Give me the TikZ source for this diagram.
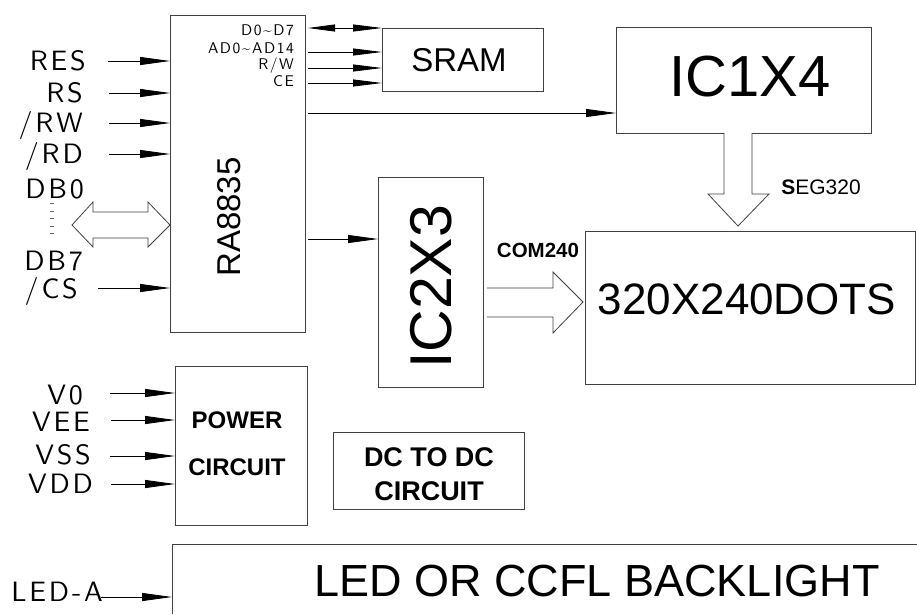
\documentclass[tikz,border=0pt]{standalone}
\usepackage{fontspec}
\usetikzlibrary{arrows.meta}
\newfontfamily\arial{Liberation Sans}
\newfontfamily\cad{lmsans10-regular.otf}[LetterSpace=10]
\tikzset{
  box/.style={draw=black!75, line width=0.8pt, inner sep=0pt, outer sep=0pt, anchor=north west},
  sig/.style={draw=black, line width=0.8pt, -{Triangle[length=30pt,width=8pt]}},
  ssig/.style={draw=black, line width=0.8pt, -{Triangle[length=29pt,width=7pt]}},
  dsig/.style={draw=black, line width=0.8pt, {Triangle[length=27pt,width=7pt]}-{Triangle[length=29pt,width=7pt]}},
  fat/.style={draw=black!75, line width=0.8pt, fill=white},
  cadlbl/.style={inner sep=0pt, anchor=base east, font=\cad\fontsize{28}{28}\selectfont},
  smalllbl/.style={inner sep=0pt, anchor=base east, font=\cad\fontsize{15.5}{15.5}\selectfont},
  big/.style={inner sep=0pt, font=\arial\fontsize{#1}{#1}\selectfont},
  bold/.style={inner sep=0pt, font=\arial\bfseries\fontsize{#1}{#1}\selectfont},
}
\begin{document}
\begin{tikzpicture}[x=1pt,y=-1pt]
\useasboundingbox (0,0) rectangle (917,614);
\fill[white] (0,0) rectangle (917,614);

% boxes
\node[box, minimum width=135pt, minimum height=317pt] (ra) at (170,15) {};
\node[box, minimum width=161pt, minimum height=63pt] (sram) at (382,28) {};
\node[box, minimum width=255pt, minimum height=106pt] (ic1) at (616,27) {};
\node[box, minimum width=105pt, minimum height=210pt] (ic2) at (378,177) {};
\node[box, minimum width=330pt, minimum height=153pt] (disp) at (585,231) {};
\node[box, minimum width=132pt, minimum height=159pt] (pwr) at (175,366) {};
\node[box, minimum width=191pt, minimum height=77pt] (dcdc) at (333,432) {};
\coordinate (ledNE) at (917,544);
\coordinate (ledNW) at (172,544);
\coordinate (ledSW) at (172,614);
\draw[black!75, line width=0.8pt] (ledNE) -- (ledNW) -- (ledSW);

% box texts
\node[big=33, rotate=90] (raT) at (229,217) {RA8835};
\node[big=33] (sramT) at (459,60) {SRAM};
\node[big=58] (ic1T) at (750,77) {IC1X4};
\node[big=59, rotate=90] (ic2T) at (431,287) {IC2X3};
\node[big=44] (dispT) at (747,299) {320X240DOTS};
\node[big=45] (ledT) at (597,581) {LED OR CCFL BACKLIGHT};
\node[bold=24] (pwrT1) at (237,420) {POWER};
\node[bold=24] (pwrT2) at (237,467) {CIRCUIT};
\node[bold=27] (dcT1) at (429,457) {DC TO DC};
\node[bold=27] (dcT2) at (429,491) {CIRCUIT};
\node[bold=20.5] (comT) at (538,250) {COM240};
\node[big=21] (segT) at (821,187) {\textbf{S}EG320};

% internal labels of RA8835
\node[smalllbl] (lD) at (294,35) {D0\textasciitilde D7};
\node[smalllbl] (lA) at (294,53) {AD0\textasciitilde AD14};
\node[smalllbl] (lR) at (294,69) {R/W};
\node[smalllbl] (lC) at (294,86) {CE};

% left labels
\node[cadlbl] (tRES) at (86,70) {RES};
\node[cadlbl] (tRS) at (83,102) {RS};
\node[cadlbl] (tRW) at (83,132) {/RW};
\node[cadlbl] (tRD) at (83,163) {/RD};
\node[cadlbl] (tDB0) at (84,198) {DB0};
\node[cadlbl] (tDB7) at (83,270) {DB7};
\node[cadlbl] (tCS) at (78,298) {/CS};
\node[cadlbl] (tV0) at (83,404) {V0};
\node[cadlbl] (tVEE) at (90,431) {VEE};
\node[cadlbl] (tVSS) at (91,464) {VSS};
\node[cadlbl] (tVDD) at (93,493) {VDD};
\node[cadlbl] (tLED) at (103,601) {LED-A};
\draw[black!60, line width=4pt, dash pattern=on 1.2pt off 6.3pt] (52,203) -- (52,235);

% input arrows to RA8835
\coordinate (cRES) at (108,61);
\coordinate (cRS) at (109,93);
\coordinate (cRW) at (109,123);
\coordinate (cRD) at (109,154);
\coordinate (cCS) at (98,288);
\foreach \c in {cRES,cRS,cRW,cRD,cCS} \draw[sig] (\c) -- (\c -| ra.west);

% power inputs
\coordinate (cV0) at (110,393);
\coordinate (cVEE) at (111,420);
\coordinate (cVSS) at (110,456);
\coordinate (cVDD) at (111,484);
\foreach \c in {cV0,cVEE,cVSS,cVDD} \draw[sig] (\c) -- (\c -| pwr.west);

% LED-A
\coordinate (cLED) at (101,597);
\draw[sig] (cLED) -- (cLED -| ledNW);

% data bus double arrow
\draw[fat] (72,225) -- (93,202) -- (93,212) -- (148,212) -- (148,202) -- (ra.west |- 0,225)
  -- (148,247) -- (148,238) -- (93,238) -- (93,247) -- cycle;

% RA8835 to SRAM
\coordinate (sD) at (308,28);
\coordinate (sA) at (308,52);
\coordinate (sR) at (308,68);
\coordinate (sC) at (308,83);
\draw[dsig] (sD) -- (sD -| sram.west);
\foreach \c in {sA,sR,sC} \draw[ssig] (\c) -- (\c -| sram.west);

% RA8835 to IC1X4 and IC2X3
\coordinate (s1) at (308,113);
\draw[sig] (s1) -- (s1 -| ic1.west);
\coordinate (s2) at (308,239);
\draw[sig] (s2) -- (s2 -| ic2.west);

% SEG320 fat arrow
\draw[fat] (724,133) -- (724,194) -- (708,194) -- (738,226) -- (769,194) -- (752,194) -- (752,133);
% COM240 fat arrow
\draw[fat] (487,288) -- (553,288) -- (553,272) -- (583,302) -- (553,333) -- (553,317) -- (487,317);
\end{tikzpicture}
\end{document}
